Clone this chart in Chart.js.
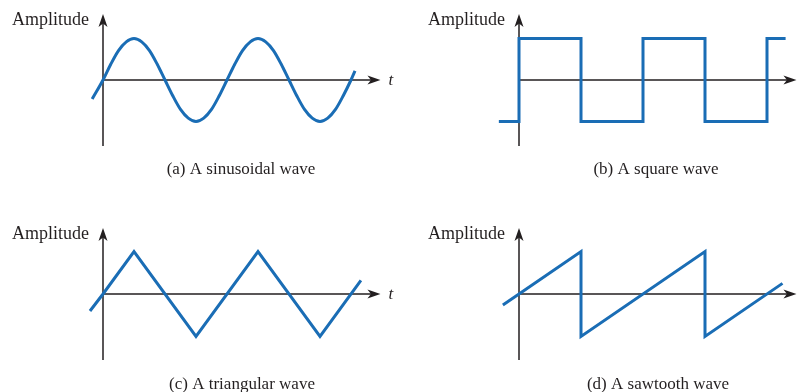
<!DOCTYPE html>
<html>
<head>
<meta charset="utf-8">
<script src="https://cdn.jsdelivr.net/npm/chart.js@4.4.1/dist/chart.umd.min.js"></script>
<style>
  html, body { margin: 0; padding: 0; background: #fff; }
  #wrap { position: relative; width: 804px; height: 392px; overflow: hidden; }
  .panel { position: absolute; width: 402px; height: 196px; }
</style>
</head>
<body>
<div id="wrap">
  <div class="panel" style="left:0;top:0"><canvas id="c-sine"></canvas></div>
  <div class="panel" style="left:402px;top:0"><canvas id="c-square"></canvas></div>
  <div class="panel" style="left:0;top:196px"><canvas id="c-tri"></canvas></div>
  <div class="panel" style="left:402px;top:196px"><canvas id="c-saw"></canvas></div>
</div>
<script>
// --- Data (time in quarter periods, amplitude in peak units) ---
const sineTime = [-0.35, 0, 0.25, 0.5, 0.75, 1, 1.25, 1.5, 1.75, 2, 2.25, 2.5, 2.75, 3, 3.25, 3.5, 3.75, 4,
                  4.25, 4.5, 4.75, 5, 5.25, 5.5, 5.75, 6, 6.25, 6.5, 6.75, 7, 7.25, 7.5, 7.75, 8, 8.13];
const sineAmp  = [-0.46, 0, 0.38, 0.71, 0.92, 1, 0.92, 0.71, 0.38, 0, -0.38, -0.71, -0.92, -1, -0.92, -0.71, -0.38, 0,
                  0.38, 0.71, 0.92, 1, 0.92, 0.71, 0.38, 0, -0.38, -0.71, -0.92, -1, -0.92, -0.71, -0.38, 0, 0.22];

const squareTime = [-0.65, 0, 2, 4, 6, 8, 8.6];
const squareAmp  = [-1, 1, -1, 1, -1, 1, 1];

const triTime = [-0.42, 0, 1, 3, 5, 7, 8.32];
const triAmp  = [-0.4, 0, 1, -1, 1, -1, 0.32];

const sawTime = [-0.52, 0, 2, 2, 6, 6, 8.5];
const sawAmp  = [-0.26, 0, 1, -1, 1, -1, 0.25];

const yLabel = 'Amplitude';
const xLabel = 't';
const captions = ['(a) A sinusoidal wave', '(b) A square wave', '(c) A triangular wave', '(d) A sawtooth wave'];

// --- Style ---
const waveColor = '#1a6db5';
const axisColor = '#231f20';
const serif = '"Liberation Serif", "DejaVu Serif", serif';

const toPoints = (xs, ys) => xs.map((x, i) => ({ x, y: ys[i] }));

function drawArrow(ctx, x, y, angle) {
  ctx.save();
  ctx.translate(x, y);
  ctx.rotate(angle);
  ctx.beginPath();
  ctx.moveTo(0, 0);
  ctx.lineTo(-13, -4.5);
  ctx.lineTo(-9.5, 0);
  ctx.lineTo(-13, 4.5);
  ctx.closePath();
  ctx.fillStyle = axisColor;
  ctx.fill();
  ctx.restore();
}

// axes with arrows + labels, drawn from the chart's own scales
const axesPlugin = {
  id: 'axes',
  beforeDatasetsDraw(chart, args, opts) {
    const { ctx, scales: { x, y } } = chart;
    const x0 = x.getPixelForValue(0);
    const y0 = y.getPixelForValue(0);
    const yTop = y.getPixelForValue(opts.ySpan);
    const yBot = y.getPixelForValue(-opts.ySpan);
    const xEnd = x.getPixelForValue(opts.xEnd);

    ctx.save();
    ctx.strokeStyle = axisColor;
    ctx.lineWidth = 1.5;
    ctx.beginPath();
    ctx.moveTo(x0, yBot);
    ctx.lineTo(x0, yTop + 6);
    ctx.moveTo(x0, y0);
    ctx.lineTo(xEnd - 6, y0);
    ctx.stroke();
    drawArrow(ctx, x0, yTop, -Math.PI / 2);
    drawArrow(ctx, xEnd, y0, 0);

    ctx.fillStyle = axisColor;
    ctx.font = '18px ' + serif;
    ctx.textBaseline = 'middle';
    ctx.textAlign = 'right';
    ctx.fillText(yLabel, x0 - 14, yTop + 6);

    if (opts.showT) {
      ctx.textAlign = 'left';
      ctx.font = 'italic 17px ' + serif;
      ctx.fillText(xLabel, xEnd + 8, y0 + 1);
    }

    ctx.textAlign = 'center';
    ctx.font = '17px ' + serif;
    ctx.fillText(opts.caption, opts.captionX, opts.captionY);
    ctx.restore();
  }
};

function makeChart(id, points, cfg) {
  const unitX = 31;
  const xMin = -1, xMax = 9, yMin = -1.8, yMax = 1.8;
  const padLeft = cfg.originX + xMin * unitX;
  const padRight = 402 - (cfg.originX + xMax * unitX);
  const padTop = cfg.originY - yMax * cfg.unitY;
  const padBottom = 196 - (cfg.originY - yMin * cfg.unitY);

  return new Chart(document.getElementById(id), {
    type: 'line',
    data: {
      datasets: [{
        data: points,
        borderColor: waveColor,
        borderWidth: 3,
        pointRadius: 0,
        fill: false,
        clip: false,
        stepped: cfg.stepped || false,
        cubicInterpolationMode: cfg.smooth ? 'monotone' : 'default',
        tension: 0,
        borderJoinStyle: 'miter'
      }]
    },
    options: {
      responsive: true,
      maintainAspectRatio: false,
      animation: false,
      layout: { padding: { left: padLeft, right: padRight, top: padTop, bottom: padBottom } },
      plugins: {
        legend: { display: false },
        tooltip: { enabled: false },
        axes: {
          ySpan: 66 / cfg.unitY,
          xEnd: 8.95,
          showT: cfg.showT,
          caption: cfg.caption,
          captionX: cfg.captionX,
          captionY: cfg.captionY
        }
      },
      scales: {
        x: { type: 'linear', min: xMin, max: xMax, display: false },
        y: { type: 'linear', min: yMin, max: yMax, display: false }
      }
    },
    plugins: [axesPlugin]
  });
}

function init() {
  makeChart('c-sine', toPoints(sineTime, sineAmp), {
    originX: 103, originY: 80, unitY: 41.5, smooth: true, showT: true,
    caption: captions[0], captionX: 241, captionY: 170
  });
  makeChart('c-square', toPoints(squareTime, squareAmp), {
    originX: 117, originY: 80, unitY: 41.5, stepped: 'before', showT: false,
    caption: captions[1], captionX: 254, captionY: 170
  });
  makeChart('c-tri', toPoints(triTime, triAmp), {
    originX: 103, originY: 98, unitY: 42.5, showT: true,
    caption: captions[2], captionX: 242, captionY: 189
  });
  makeChart('c-saw', toPoints(sawTime, sawAmp), {
    originX: 117, originY: 98, unitY: 42.5, showT: false,
    caption: captions[3], captionX: 256, captionY: 189
  });
}

document.addEventListener('DOMContentLoaded', init);
</script>
</body>
</html>
